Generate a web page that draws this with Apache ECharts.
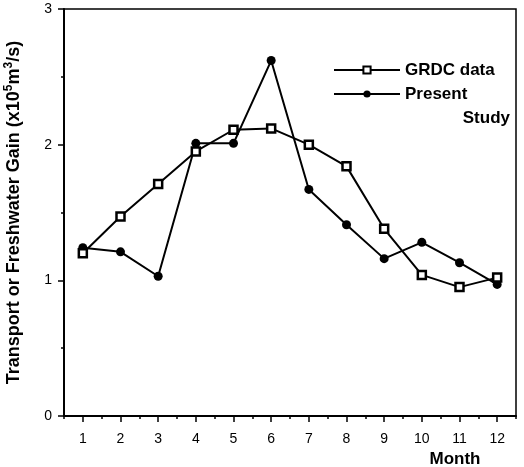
<!DOCTYPE html>
<html>
<head>
<meta charset="utf-8">
<script src="https://cdn.jsdelivr.net/npm/echarts@6/dist/echarts.min.js"></script>
<style>
  html, body { margin: 0; padding: 0; background: #fff; }
  #chart { width: 524px; height: 467px; }
</style>
</head>
<body>
<div id="chart"></div>
<script>
// monthly values
const months = ['1', '2', '3', '4', '5', '6', '7', '8', '9', '10', '11', '12']
const grdcData = [1.20, 1.47, 1.71, 1.95, 2.11, 2.12, 2.00, 1.84, 1.38, 1.04, 0.95, 1.02]
const presentStudy = [1.24, 1.21, 1.03, 2.01, 2.01, 2.62, 1.67, 1.41, 1.16, 1.28, 1.13, 0.97]
const yTicks = [0, 1, 2, 3]

const FONT = 'Liberation Sans, Arial, Helvetica, sans-serif'
const chart = echarts.init(document.getElementById('chart'))

const legendBase = {
  orient: 'vertical',
  left: 333,
  padding: 0,
  itemWidth: 66,
  itemHeight: 9,
  itemGap: 0,
  selectedMode: false
}

chart.setOption({
  animation: false,
  grid: {
    left: 64, right: 8, top: 9, bottom: 51,
    outerBoundsMode: 'none',
    show: true, borderColor: '#000', borderWidth: 1.5
  },
  legend: [
    {
      ...legendBase,
      top: 61,
      data: ['GRDC data'],
      textStyle: { fontFamily: FONT, fontWeight: 'bold', fontSize: 17, color: '#000', lineHeight: 18 }
    },
    {
      ...legendBase,
      top: 58,
      data: ['Present Study'],
      formatter: () => '{p|Present}\n{s|Study}',
      textStyle: {
        fontFamily: FONT, fontWeight: 'bold', fontSize: 17, color: '#000',
        lineHeight: 24, width: 105, padding: [24, 0, 0, 0],
        rich: {
          p: { fontFamily: FONT, fontWeight: 'bold', fontSize: 17, lineHeight: 24 },
          s: { fontFamily: FONT, fontWeight: 'bold', fontSize: 17, lineHeight: 24, align: 'right' }
        }
      }
    }
  ],
  xAxis: [
    {
      type: 'category',
      data: months,
      boundaryGap: true,
      position: 'bottom',
      axisLine: { lineStyle: { color: '#000', width: 2 } },
      axisTick: { show: true, alignWithLabel: true, length: 6, lineStyle: { color: '#000', width: 1.5 } },
      axisLabel: { color: '#000', fontFamily: FONT, fontSize: 14, margin: 16 },
      splitLine: { show: false },
      name: 'Month',
      nameLocation: 'middle',
      nameGap: 35,
      nameTextStyle: {
        fontFamily: FONT, fontWeight: 'bold', fontSize: 17, color: '#000',
        padding: [0, 0, 0, 330]
      }
    },
    {
      // half-month minor ticks
      type: 'category',
      data: months,
      boundaryGap: true,
      position: 'bottom',
      axisLine: { show: false },
      axisTick: { show: true, alignWithLabel: false, length: 3, lineStyle: { color: '#000', width: 1.5 } },
      axisLabel: { show: false },
      splitLine: { show: false }
    }
  ],
  yAxis: [
    {
      type: 'value',
      min: yTicks[0],
      max: yTicks[yTicks.length - 1],
      interval: 1,
      axisLine: { show: true, lineStyle: { color: '#000', width: 2 } },
      axisTick: { show: true, length: 6, lineStyle: { color: '#000', width: 1.5 } },
      axisLabel: { color: '#000', fontSize: 14, margin: 12 },
      splitLine: { show: false },
      name: '{a|Transport or Freshwater Gain (x10}{s|5}{a|m}{s|3}{a|/s)}',
      nameLocation: 'middle',
      nameRotate: 90,
      nameGap: 39,
      nameTextStyle: {
        color: '#000',
        rich: {
          a: { fontFamily: FONT, fontWeight: 'bold', fontSize: 18, lineHeight: 22, color: '#000' },
          s: { fontFamily: FONT, fontWeight: 'bold', fontSize: 12, lineHeight: 13, verticalAlign: 'top', color: '#000' }
        }
      }
    },
    {
      // half-unit minor ticks
      type: 'value',
      min: yTicks[0],
      max: yTicks[yTicks.length - 1],
      interval: 0.5,
      position: 'left',
      axisLine: { show: false },
      axisTick: { show: true, length: 3, lineStyle: { color: '#000', width: 1.5 } },
      axisLabel: { show: false },
      splitLine: { show: false }
    }
  ],
  series: [
    {
      name: 'GRDC data',
      type: 'line',
      data: grdcData,
      symbol: 'rect',
      symbolSize: 8,
      lineStyle: { color: '#000', width: 2 },
      itemStyle: { color: '#fff', borderColor: '#000', borderWidth: 2.5 },
      z: 3
    },
    {
      name: 'Present Study',
      type: 'line',
      data: presentStudy,
      symbol: 'circle',
      symbolSize: 9,
      lineStyle: { color: '#000', width: 2 },
      itemStyle: { color: '#000' },
      z: 2
    }
  ]
})
</script>
</body>
</html>
